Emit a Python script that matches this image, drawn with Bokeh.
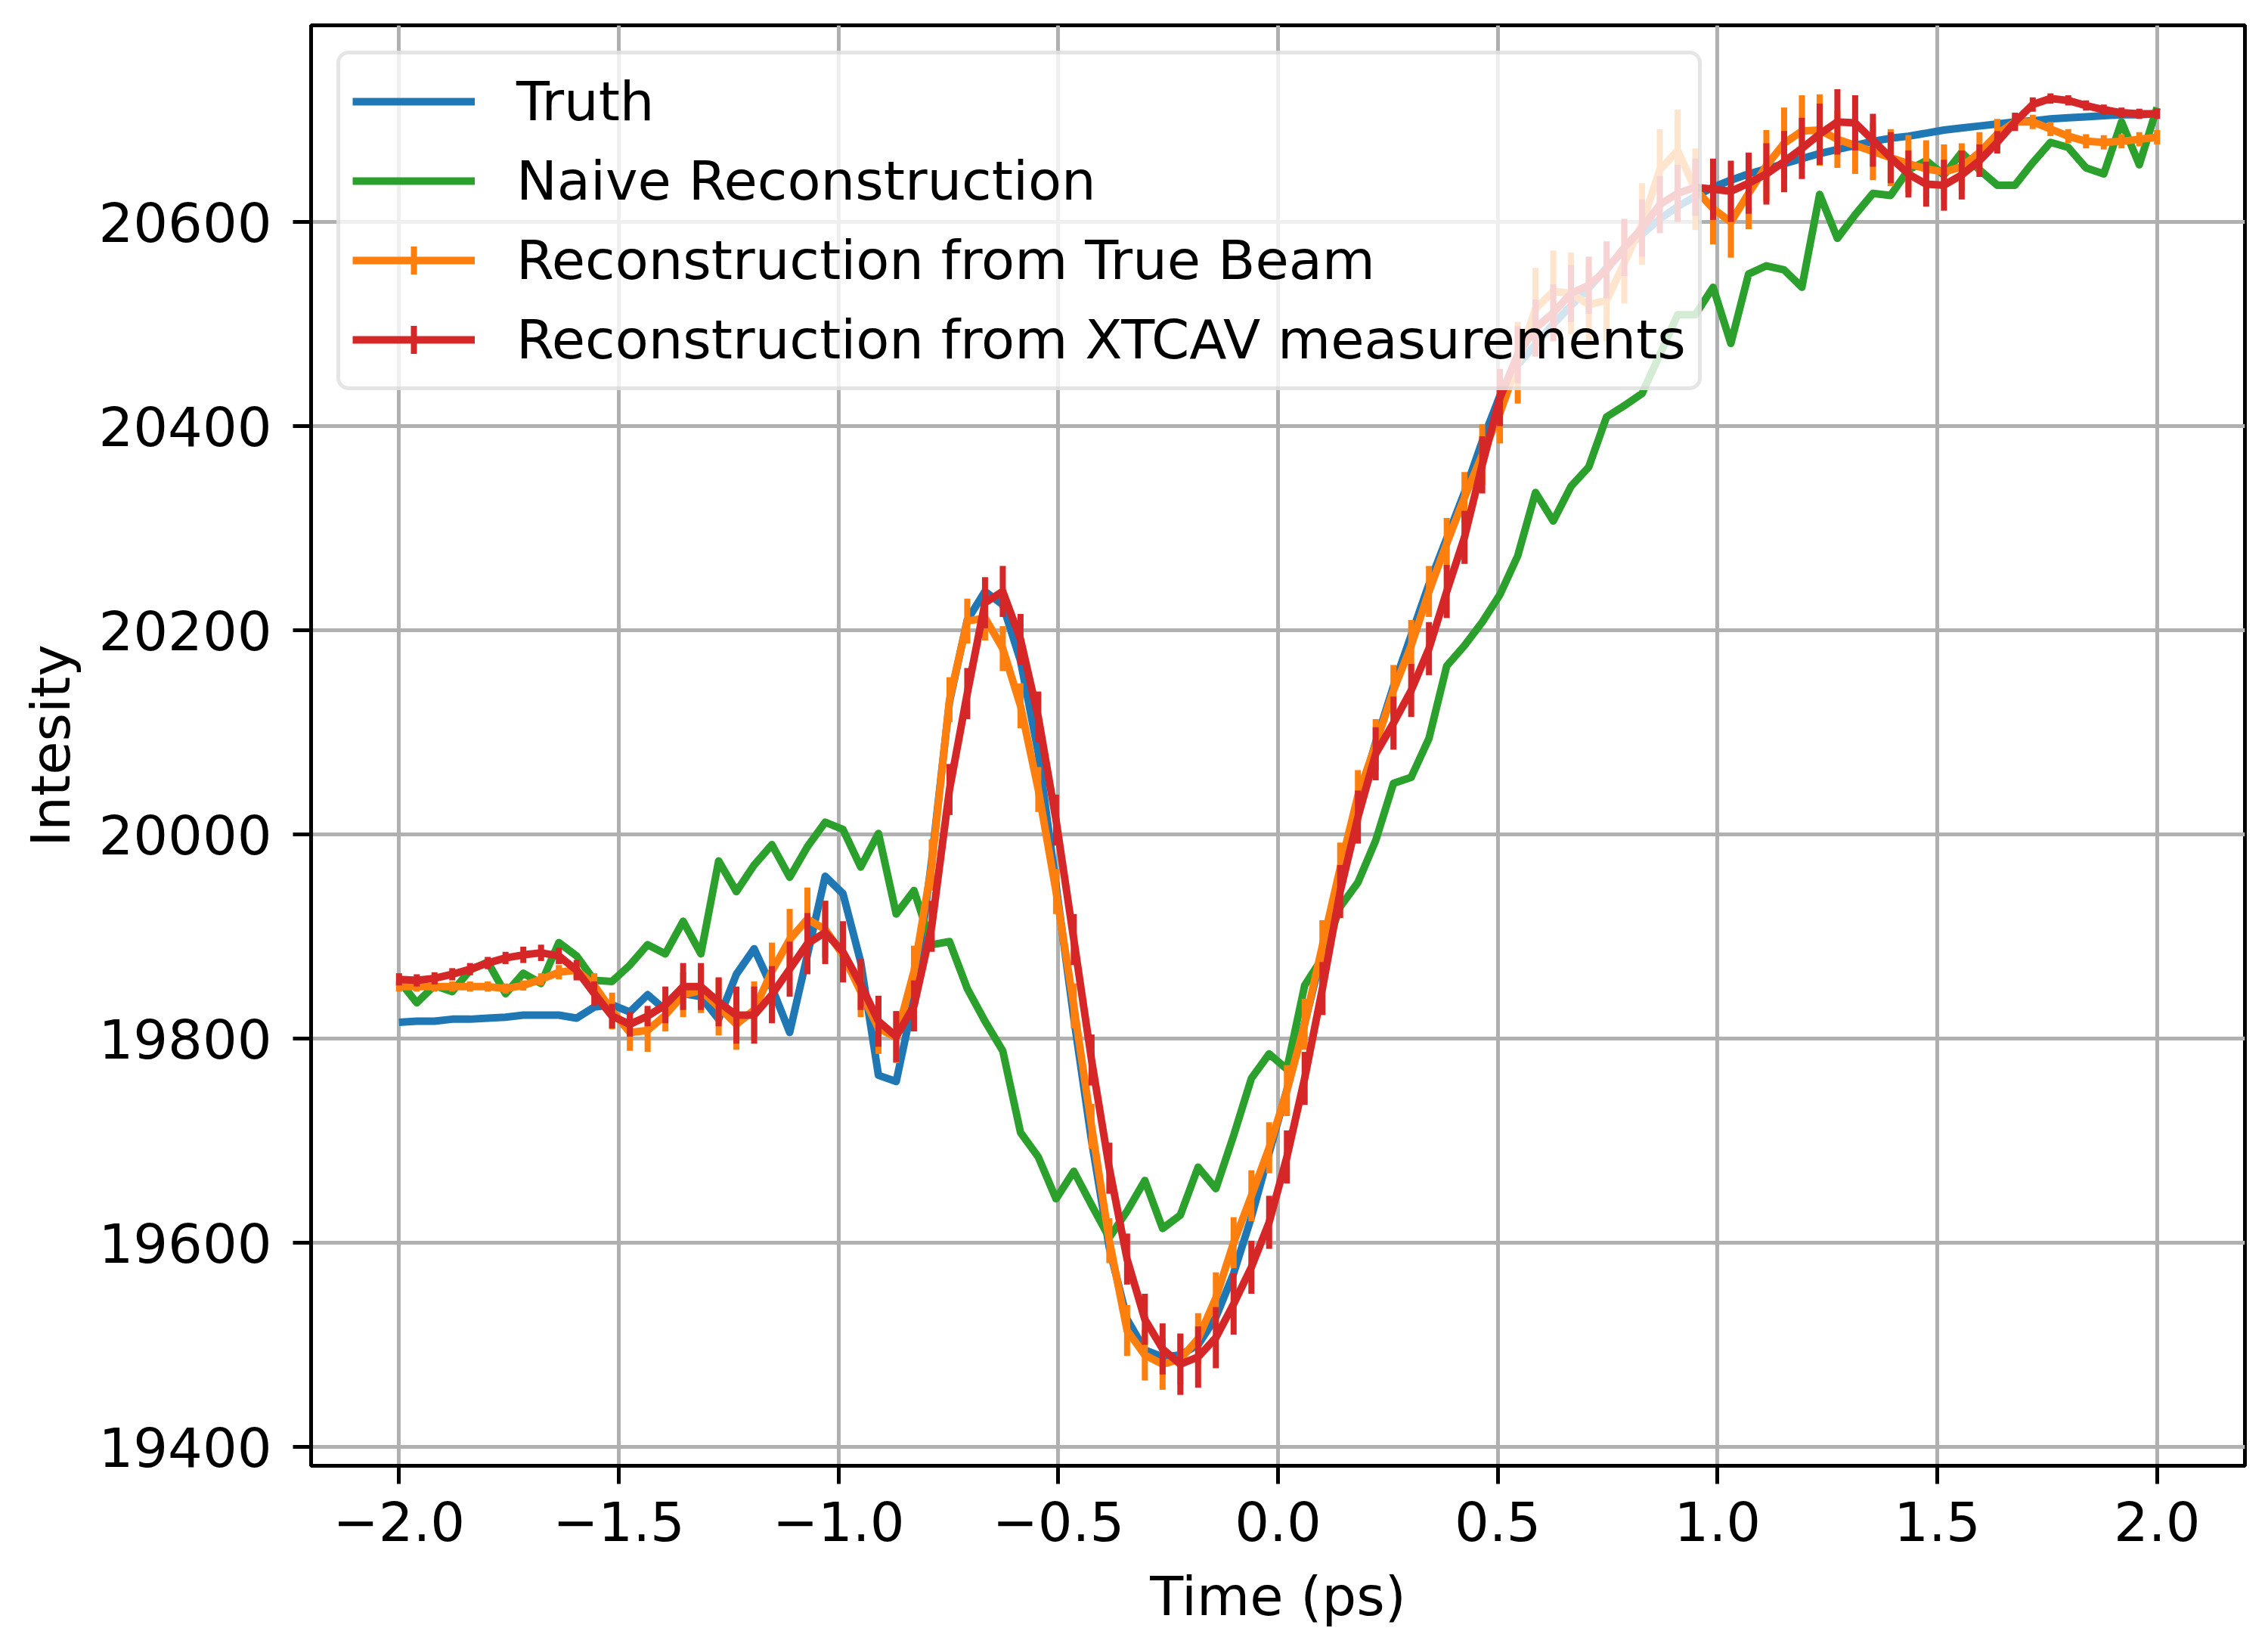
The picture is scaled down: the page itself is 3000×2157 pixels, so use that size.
import numpy as np
from bokeh.plotting import figure
from bokeh.models import ColumnDataSource, FixedTicker, Legend, LegendItem
from bokeh.embed import file_html
from bokeh.resources import INLINE

# ---------------- data ----------------
time_ps = np.linspace(-2.0, 2.0, 100)

truth = [19816, 19817, 19817, 19819, 19819, 19820, 19821, 19823, 19823, 19823,
         19820, 19831, 19833, 19826, 19843, 19828, 19844, 19841, 19819, 19863,
         19888, 19850, 19806, 19882, 19959, 19942, 19875, 19764, 19758, 19840,
         19975, 20130, 20210, 20238, 20225, 20170, 20080, 19950, 19820, 19700,
         19595, 19525, 19495, 19488, 19490, 19500, 19527, 19570, 19625, 19688,
         19750, 19815, 19885, 19960, 20030, 20090, 20145, 20195, 20245, 20290,
         20335, 20385, 20430, 20460, 20480, 20500, 20518, 20535, 20555, 20572,
         20588, 20603, 20615, 20625, 20634, 20641, 20647, 20652, 20657, 20662,
         20667, 20671, 20675, 20679, 20682, 20684, 20687, 20690, 20692, 20694,
         20696, 20698, 20699, 20701, 20702, 20703, 20704, 20705, 20705, 20706]

naive = [19857, 19835, 19852, 19846, 19867, 19875, 19844, 19864, 19854, 19894,
         19881, 19857, 19856, 19872, 19892, 19883, 19915, 19883, 19974, 19944,
         19970, 19990, 19958, 19988, 20012, 20005, 19968, 20001, 19922, 19945,
         19892, 19895, 19849, 19817, 19788, 19708, 19684, 19643, 19670, 19637,
         19605, 19631, 19661, 19614, 19627, 19674, 19653, 19705, 19761, 19785,
         19770, 19852, 19879, 19929, 19953, 19994, 20050, 20056, 20094, 20165,
         20185, 20208, 20235, 20273, 20335, 20307, 20341, 20360, 20409, 20420,
         20432, 20470, 20509, 20509, 20536, 20481, 20549, 20557, 20553, 20536,
         20627, 20584, 20607, 20628, 20626, 20651, 20660, 20646, 20668, 20651,
         20636, 20636, 20658, 20678, 20673, 20653, 20647, 20698, 20656, 20712]

true_beam = [19851, 19851, 19851, 19851, 19851, 19851, 19849, 19852, 19858, 19865,
             19867, 19852, 19827, 19806, 19808, 19823, 19843, 19847, 19831, 19814,
             19828, 19866, 19897, 19917, 19907, 19882, 19846, 19810, 19801, 19866,
             19970, 20132, 20209, 20212, 20182, 20126, 20044, 19944, 19832, 19714,
             19602, 19514, 19490, 19481, 19486, 19506, 19546, 19600, 19646, 19693,
             19749, 19814, 19891, 19967, 20038, 20088, 20141, 20185, 20238, 20285,
             20330, 20372, 20413, 20462, 20515, 20532, 20530, 20519, 20523, 20560,
             20598, 20651, 20670, 20632, 20613, 20600, 20628, 20655, 20677, 20689,
             20690, 20681, 20675, 20669, 20663, 20657, 20652, 20649, 20654, 20668,
             20686, 20698, 20698, 20691, 20684, 20679, 20678, 20679, 20681, 20683]

true_beam_err = [5, 5, 5, 5, 5, 5, 5, 5, 6, 7,
                 8, 12, 18, 18, 21, 16, 22, 22, 28, 25,
                 28, 28, 30, 31, 28, 25, 25, 25, 25, 25,
                 25, 22, 22, 22, 22, 22, 22, 22, 22, 22,
                 22, 25, 25, 25, 25, 25, 25, 25, 25, 25,
                 25, 25, 25, 25, 25, 25, 25, 25, 25, 25,
                 25, 30, 30, 40, 40, 40, 40, 40, 40, 40,
                 40, 40, 40, 40, 35, 35, 35, 35, 35, 35,
                 35, 28, 28, 28, 28, 28, 28, 27, 23, 20,
                 15, 7, 7, 7, 7, 7, 7, 7, 7, 7]

xtcav = [19858, 19857, 19859, 19863, 19868, 19874, 19879, 19882, 19884, 19881,
         19867, 19844, 19822, 19814, 19822, 19833, 19851, 19851, 19836, 19823,
         19823, 19843, 19868, 19893, 19904, 19885, 19853, 19817, 19802, 19832,
         19910, 20044, 20138, 20227, 20238, 20191, 20115, 20014, 19897, 19779,
         19673, 19584, 19525, 19496, 19481, 19488, 19507, 19540, 19576, 19620,
         19684, 19761, 19849, 19944, 20017, 20079, 20109, 20141, 20182, 20238,
         20291, 20362, 20428, 20470, 20496, 20511, 20530, 20538, 20553, 20575,
         20594, 20617, 20628, 20634, 20632, 20630, 20638, 20647, 20659, 20672,
         20686, 20698, 20697, 20680, 20663, 20647, 20637, 20636, 20646, 20660,
         20678, 20698, 20715, 20721, 20719, 20714, 20710, 20707, 20706, 20706]

xtcav_err = [6, 6, 6, 6, 6, 6, 6, 8, 8, 8,
             10, 12, 12, 12, 10, 18, 23, 23, 24, 28,
             28, 28, 27, 30, 31, 30, 25, 25, 25, 25,
             25, 25, 25, 25, 25, 25, 25, 25, 25, 25,
             25, 25, 25, 25, 30, 30, 30, 30, 26, 26,
             26, 26, 26, 26, 26, 26, 26, 26, 26, 26,
             26, 28, 28, 28, 28, 28, 28, 28, 28, 28,
             28, 28, 28, 28, 30, 30, 30, 30, 30, 30,
             30, 32, 27, 26, 25, 23, 22, 25, 24, 16,
             11, 9, 7, 5, 5, 5, 5, 5, 5, 5]

x_ticks = [-2.0, -1.5, -1.0, -0.5, 0.0, 0.5, 1.0, 1.5, 2.0]
x_tick_labels = ["\u22122.0", "\u22121.5", "\u22121.0", "\u22120.5", "0.0", "0.5", "1.0", "1.5", "2.0"]
y_ticks = [19400, 19600, 19800, 20000, 20200, 20400, 20600]
y_tick_labels = ["19400", "19600", "19800", "20000", "20200", "20400", "20600"]

labels = ["Truth", "Naive Reconstruction", "Reconstruction from True Beam",
          "Reconstruction from XTCAV measurements"]
colors = ["#1f77b4", "#2ca02c", "#ff7f0e", "#d62728"]

FONT = "DejaVu Sans"
FS = "72px"

# ---------------- figure ----------------
p = figure(width=3000, height=2157, x_range=(-2.2, 2.2), y_range=(19381.5, 20792.6),
           output_backend="svg", toolbar_location=None,
           min_border_left=411, min_border_right=31, min_border_top=33, min_border_bottom=219)
p.background_fill_color = "white"
p.border_fill_color = "white"
p.outline_line_color = "black"
p.outline_line_width = 5
p.outline_line_alpha = 1.0

t = np.asarray(time_ps)
r_truth = p.line(t, truth, line_color=colors[0], line_width=10, line_join="round")
r_naive = p.line(t, naive, line_color=colors[1], line_width=10, line_join="round")

def err_series(vals, errs, color):
    v = np.asarray(vals, dtype=float)
    e = np.asarray(errs, dtype=float)
    src = ColumnDataSource(dict(x=t, y=v, lo=v - e, hi=v + e))
    p.segment(x0="x", y0="lo", x1="x", y1="hi", source=src, line_color=color, line_width=8)
    # zero-size cross at each point: invisible in the plot, but gives the
    # legend its vertical error-bar tick (legend marker size is set by the legend box)
    leg = p.scatter("x", "y", source=src, marker="cross", size=0, line_color=color, line_width=8)
    ln = p.line("x", "y", source=src, line_color=color, line_width=10, line_join="round")
    return ln, leg

r_tb, leg_tb = err_series(true_beam, true_beam_err, colors[2])
r_xt, leg_xt = err_series(xtcav, xtcav_err, colors[3])

legend = Legend(items=[
    LegendItem(label=labels[0], renderers=[r_truth]),
    LegendItem(label=labels[1], renderers=[r_naive]),
    LegendItem(label=labels[2], renderers=[r_tb, leg_tb]),
    LegendItem(label=labels[3], renderers=[r_xt, leg_xt]),
], location="top_left")
legend.label_text_font = FONT
legend.label_text_font_size = FS
legend.label_text_color = "black"
legend.glyph_width = 162
legend.glyph_height = 92
legend.label_standoff = 55
legend.spacing = 13
legend.padding = 16
legend.margin = 34
legend.border_line_color = "#cccccc"
legend.border_line_width = 5
legend.background_fill_color = "white"
legend.background_fill_alpha = 0.8
if "border_radius" in Legend.properties():
    legend.border_radius = 16
p.add_layout(legend)

# ---------------- axes ----------------
p.xaxis.ticker = FixedTicker(ticks=x_ticks)
p.yaxis.ticker = FixedTicker(ticks=y_ticks)
p.xaxis.major_label_overrides = {k: v for k, v in zip(x_ticks, x_tick_labels)}
p.yaxis.major_label_overrides = {k: v for k, v in zip(y_ticks, y_tick_labels)}
p.xgrid.ticker = FixedTicker(ticks=x_ticks)
p.ygrid.ticker = FixedTicker(ticks=y_ticks)

for g in (p.xgrid[0], p.ygrid[0]):
    g.grid_line_color = "#b0b0b0"
    g.grid_line_width = 5

p.xaxis.axis_label = "Time (ps)"
p.yaxis.axis_label = "Intesity"
for ax in (p.xaxis[0], p.yaxis[0]):
    ax.major_label_text_font = FONT
    ax.major_label_text_font_size = FS
    ax.major_label_text_color = "black"
    ax.axis_label_text_font = FONT
    ax.axis_label_text_font_size = FS
    ax.axis_label_text_font_style = "normal"
    ax.axis_label_text_color = "black"
    ax.axis_line_color = "black"
    ax.axis_line_width = 5
    ax.major_tick_line_color = "black"
    ax.major_tick_line_width = 5
    ax.major_tick_in = 0
    ax.major_tick_out = 24
    ax.minor_tick_line_color = None

p.xaxis.major_label_standoff = 22
p.xaxis.axis_label_standoff = 28
p.yaxis.major_label_standoff = 28
p.yaxis.axis_label_standoff = 18

open("out.html", "w").write(file_html(p, INLINE))
